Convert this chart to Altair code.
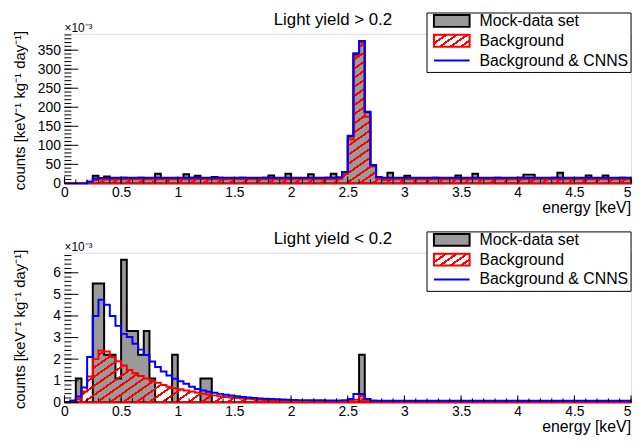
import math
import altair as alt
import pandas as pd

FONT = "Liberation Sans"
W, H = 572, 151
SPACING = 70

bin_lo = [round(i * 0.05, 2) for i in range(100)]

top_data = [0, 0, 0, 0, 4, 20, 13, 18, 12, 14,
            15, 13, 14, 15, 12, 14, 25, 13, 14, 12,
            14, 24, 15, 20, 13, 14, 17, 15, 12, 14,
            13, 15, 12, 14, 13, 15, 21, 13, 14, 25,
            12, 14, 13, 24, 14, 12, 15, 25, 14, 28,
            123, 340, 374, 187, 45, 14, 10, 28, 13, 12,
            20, 13, 14, 12, 13, 15, 12, 14, 13, 21,
            13, 14, 25, 12, 14, 13, 15, 12, 14, 13,
            15, 23, 23, 14, 12, 13, 15, 28, 13, 14,
            12, 14, 21, 13, 12, 21, 14, 13, 15, 12]
top_bg = [0, 0, 0, 0, 2, 9, 10, 10, 10, 11,
          11, 11, 11, 11, 11, 11, 11, 11, 11, 11,
          11, 11, 11, 11, 11, 11, 11, 11, 11, 11,
          11, 11, 11, 11, 11, 11, 11, 11, 11, 11,
          11, 11, 11, 11, 11, 11, 11, 11, 12, 25,
          115, 335, 370, 175, 46, 13, 11, 11, 11, 11,
          11, 11, 11, 11, 11, 11, 11, 11, 11, 11,
          11, 11, 11, 11, 11, 11, 11, 11, 11, 11,
          11, 11, 11, 11, 11, 11, 11, 11, 11, 11,
          11, 11, 11, 11, 11, 11, 11, 11, 11, 11]
top_sum = [0, 0, 0, 0, 4, 13, 14, 14, 15, 15,
           15, 15, 15, 15, 15, 15, 15, 15, 15, 15,
           15, 15, 15, 15, 15, 15, 15, 15, 15, 15,
           15, 15, 15, 15, 15, 15, 15, 15, 15, 15,
           15, 15, 15, 15, 15, 15, 15, 15, 16, 30,
           125, 342, 374, 188, 48, 17, 15, 15, 15, 15,
           15, 15, 15, 15, 15, 15, 15, 15, 15, 15,
           15, 15, 15, 15, 15, 15, 15, 15, 15, 15,
           15, 15, 15, 15, 15, 15, 15, 15, 15, 15,
           15, 15, 15, 15, 15, 15, 15, 15, 15, 15]

bot_data = [0, 0, 1.1, 0, 0, 5.5, 5.5, 2.2, 2.2, 1.1,
            6.6, 3.3, 3.3, 2.2, 3.3, 1.1, 0, 0, 0, 2.2,
            0, 0, 0, 0, 1.1, 1.1, 0, 0, 0, 0,
            0, 0, 0, 0, 0, 0, 0, 0, 0, 0,
            0, 0, 0, 0, 0, 0, 0, 0, 0, 0,
            0, 0, 2.2, 0, 0, 0, 0, 0, 0, 0,
            0, 0, 0, 0, 0, 0, 0, 0, 0, 0,
            0, 0, 0, 0, 0, 0, 0, 0, 0, 0,
            0, 0, 0, 0, 0, 0, 0, 0, 0, 0,
            0, 0, 0, 0, 0, 0, 0, 0, 0, 0]
bot_bg = [0, 0.03, 0.15, 0.5, 1.2, 2.0, 2.4, 2.35, 2.1, 1.9,
          1.7, 1.5, 1.35, 1.22, 1.1, 1.0, 0.9, 0.8, 0.72, 0.65,
          0.6, 0.55, 0.5, 0.45, 0.4, 0.36, 0.32, 0.28, 0.25, 0.22,
          0.2, 0.18, 0.16, 0.14, 0.12, 0.11, 0.1, 0.09, 0.08, 0.07,
          0.06, 0.06, 0.05, 0.05, 0.05, 0.04, 0.04, 0.04, 0.04, 0.05,
          0.06, 0.12, 0.3, 0.1, 0.04, 0.03, 0.03, 0.03, 0.03, 0.03,
          0.03, 0.03, 0.03, 0.03, 0.03, 0.03, 0.03, 0.03, 0.03, 0.03,
          0.03, 0.03, 0.03, 0.03, 0.03, 0.03, 0.03, 0.03, 0.03, 0.03,
          0.03, 0.03, 0.03, 0.03, 0.03, 0.03, 0.03, 0.03, 0.03, 0.03,
          0.03, 0.03, 0.03, 0.03, 0.03, 0.03, 0.03, 0.03, 0.03, 0.03]
bot_sum = [0, 0.08, 0.27, 0.68, 2.1, 4.0, 4.75, 4.52, 4.0, 3.54,
           3.17, 3.02, 2.71, 2.44, 2.19, 1.89, 1.63, 1.43, 1.24, 1.09,
           0.98, 0.86, 0.72, 0.62, 0.55, 0.49, 0.44, 0.39, 0.35, 0.31,
           0.28, 0.25, 0.22, 0.2, 0.18, 0.16, 0.15, 0.14, 0.13, 0.12,
           0.11, 0.1, 0.1, 0.09, 0.09, 0.09, 0.08, 0.08, 0.08, 0.1,
           0.15, 0.38, 0.38, 0.15, 0.08, 0.07, 0.07, 0.07, 0.07, 0.07,
           0.07, 0.07, 0.07, 0.07, 0.07, 0.07, 0.07, 0.07, 0.07, 0.07,
           0.07, 0.07, 0.07, 0.07, 0.07, 0.07, 0.07, 0.07, 0.07, 0.07,
           0.07, 0.07, 0.07, 0.07, 0.07, 0.07, 0.07, 0.07, 0.07, 0.07,
           0.07, 0.07, 0.07, 0.07, 0.07, 0.07, 0.07, 0.07, 0.07, 0.07]

x_major = [0, 0.5, 1, 1.5, 2, 2.5, 3, 3.5, 4, 4.5, 5]
x_minor = [round(i * 0.1, 1) for i in range(51)]
top_y_major = [0, 50, 100, 150, 200, 250, 300, 350]
top_y_minor = list(range(0, 391, 10))
bot_y_major = [0, 1, 2, 3, 4, 5, 6]
bot_y_minor = [round(i * 0.2, 1) for i in range(35)]

legend_labels = ["Mock-data set", "Background", "Background & CNNS"]
y_title = "counts [keV\u207b\u00b9 kg\u207b\u00b9 day\u207b\u00b9]"
x_title = "energy [keV]"
TRANSP = "rgba(255,255,255,0)"
GRAY = "#9a9a9a"


def hatch(w, h, theta=35, spacing=7.5, lw=2.0, color="#ff0000"):
    a = math.tan(math.radians(theta)) * w / h
    b = 1.0
    s = (a + b) / (a * a + b * b)
    g = math.hypot(a / w, b / h) / (a + b)
    n = max(1, int(round(1.0 / (spacing * g))))
    f = lw / spacing
    stops = []
    for k in range(n):
        o0, o1, o2 = k / n, (k + f) / n, (k + 1) / n
        stops += [alt.GradientStop(color=color, offset=o0),
                  alt.GradientStop(color=color, offset=o1),
                  alt.GradientStop(color=TRANSP, offset=o1),
                  alt.GradientStop(color=TRANSP, offset=o2)]
    return alt.Gradient(gradient="linear", stops=stops, x1=0, y1=0, x2=s * a, y2=s * b)


def step_df(vals):
    return pd.DataFrame({"x": bin_lo + [5.0], "y": list(vals) + [vals[-1]]})


def panel(data, bg, tot, ymax, ymaj, ymin, title, anchor):
    xs = alt.Scale(domain=[0, 5], nice=False, zero=False)
    ys = alt.Scale(domain=[0, ymax], nice=False)
    xax = alt.Axis(values=x_major, format="~g", title=None, grid=False, domain=False,
                   ticks=False, labelFont=FONT, labelFontSize=14, labelPadding=2,
                   labelColor="black", labelFlush=False,
                   labelAlign={"condition": {"test": "datum.value == 5", "value": "right"},
                               "value": "center"})
    yax = alt.Axis(values=ymaj, format="d", title=None, grid=False, domain=False,
                   ticks=False, labelFont=FONT, labelFontSize=14, labelPadding=4,
                   labelColor="black")
    X = alt.X("x:Q", scale=xs, axis=xax)
    Y = alt.Y("y:Q", scale=ys, axis=yax)

    red_h = max(bg) / ymax * H
    l_data = alt.Chart(step_df(data)).mark_area(
        interpolate="step-after", fill=GRAY, stroke="black", strokeWidth=2
    ).encode(x=X, y=Y)
    l_bg = alt.Chart(step_df(bg)).mark_area(
        interpolate="step-after", fill=hatch(W, red_h), stroke="red", strokeWidth=2
    ).encode(x=X, y=Y)
    l_tot = alt.Chart(step_df(tot)).mark_line(
        interpolate="step-after", color="blue", strokeWidth=2
    ).encode(x=X, y=Y)

    tx_maj = alt.Chart(pd.DataFrame({"x": x_major})).mark_rule(color="black", strokeWidth=1).encode(
        x=X, y=alt.value(H), y2=alt.value(H - 7))
    tx_min = alt.Chart(pd.DataFrame({"x": x_minor})).mark_rule(color="black", strokeWidth=1).encode(
        x=X, y=alt.value(H), y2=alt.value(H - 4))
    ty_maj = alt.Chart(pd.DataFrame({"y": ymaj})).mark_rule(color="black", strokeWidth=1).encode(
        y=Y, x=alt.value(0), x2=alt.value(14))
    ty_min = alt.Chart(pd.DataFrame({"y": ymin})).mark_rule(color="black", strokeWidth=1).encode(
        y=Y, x=alt.value(0), x2=alt.value(7))

    def txt(s, x, y, size=14, align="left", angle=0, baseline="middle"):
        return alt.Chart(pd.DataFrame({"t": [s]})).mark_text(
            font=FONT, fontSize=size, align=align, baseline=baseline, angle=angle, color="black"
        ).encode(text="t:N", x=alt.value(x), y=alt.value(y))

    def box(x, x2, y, y2, **kw):
        return alt.Chart(pd.DataFrame({"a": [0]})).mark_rect(**kw).encode(
            x=alt.value(x), x2=alt.value(x2), y=alt.value(y), y2=alt.value(y2))

    t_title = txt(title, 271, -14, 17, "center")
    t_exp = txt("\u00d710\u207b\u00b3", 0, -6, 12, "left")
    t_xt = txt(x_title, W, H + 25, 16, "right")
    t_yt = txt(y_title, -45, -3, 15, "right", 270)

    leg_box = box(366, W, -21, 39, fill="white", stroke="black", strokeWidth=1)
    sw1 = box(373, 409, -19, -7, fill=GRAY, stroke="black", strokeWidth=2)
    sw2 = box(373, 409, 1, 13, fill=hatch(36, 12, spacing=6), stroke="red", strokeWidth=2)
    sw3 = alt.Chart(pd.DataFrame({"a": [0]})).mark_rule(color="blue", strokeWidth=2).encode(
        x=alt.value(373), x2=alt.value(409), y=alt.value(27))
    lt = [txt(legend_labels[i], 419, yy, 16, "left") for i, yy in enumerate([-13, 7, 27])]

    layers = [l_data, l_bg, l_tot, tx_maj, tx_min, ty_maj, ty_min,
              t_title, t_exp, t_xt, t_yt, leg_box, sw1, sw2, sw3, *lt]
    if anchor:
        layers.append(box(-56, -55, -23, -22, opacity=0))
    return alt.layer(*layers).properties(width=W, height=H)


top = panel(top_data, top_bg, top_sum, 393, top_y_major, top_y_minor, "Light yield > 0.2", True)
bot = panel(bot_data, bot_bg, bot_sum, 6.93, bot_y_major, bot_y_minor, "Light yield < 0.2", False)

chart = alt.vconcat(top, bot, spacing=SPACING, bounds="flush").properties(
    padding={"left": 0, "top": 0, "right": 0, "bottom": 0}
).configure_view(stroke="black", strokeWidth=1).configure(font=FONT)

chart.save("out.html", embed_options={"renderer": "svg", "actions": False})
